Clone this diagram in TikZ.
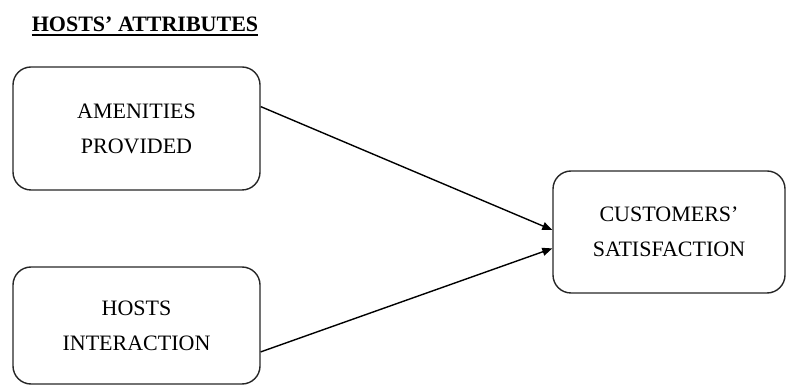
\documentclass[tikz,border=0pt]{standalone}
\usepackage{fontspec}
\setmainfont{Liberation Serif}
\usepackage{tikz}
\usetikzlibrary{arrows.meta, positioning, calc}

\begin{document}
\begin{tikzpicture}[
  x=1pt, y=1pt,
  font=\fontsize{22}{35}\selectfont,
  >={Triangle[length=10pt, width=8pt]},
  factor/.style={draw=black!85, line width=1.4pt, rounded corners=18pt, align=center, inner sep=0pt}
]
\useasboundingbox (0,0) rectangle (786,385);

% Title
\node[font=\fontsize{22}{35}\selectfont\bfseries, anchor=base, inner sep=0pt] (ttl) at (145,353) {HOSTS’ ATTRIBUTES};
\draw[line width=1.3pt] ([yshift=-3pt]ttl.base west) -- ([yshift=-3pt]ttl.base east);

% Host attribute boxes
\node[factor, minimum width=247pt, minimum height=123pt] (amen) at (136.5,256.5) {AMENITIES\\PROVIDED};
\node[factor, minimum width=247pt, minimum height=117pt] (inter) at (136.5,59.5) {HOSTS\\INTERACTION};

% Outcome box
\node[factor, minimum width=232pt, minimum height=122pt] (cust) at (669,153) {CUSTOMERS’\\SATISFACTION};

% Arrows
\draw[->, line width=1.4pt] (amen.10) -- (cust.179.5);
\draw[->, line width=1.4pt] (inter.-12.5) -- (cust.188);

\end{tikzpicture}
\end{document}
